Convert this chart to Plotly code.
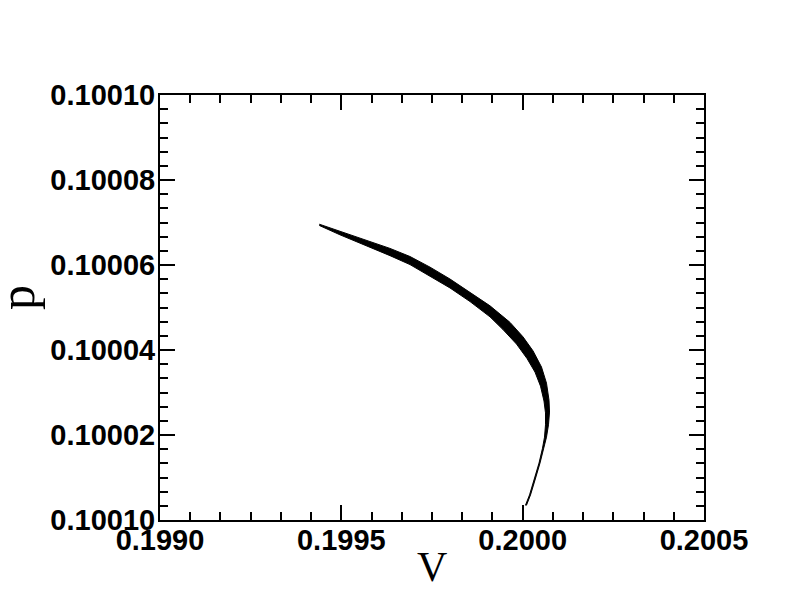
import plotly.graph_objects as go

# Outer (upper/right) edge of the band, from the top-left tip down to the bottom end
outer_v = [0.1994393, 0.1994963, 0.1995790, 0.1996342, 0.1996893, 0.1997445, 0.1997996,
           0.1998548, 0.1999099, 0.1999651, 0.2000009, 0.2000285, 0.2000519, 0.2000657,
           0.2000726, 0.2000740, 0.2000712, 0.2000657, 0.2000588, 0.2000478, 0.2000340,
           0.2000216, 0.2000106]
outer_p = [0.1000696, 0.1000679, 0.1000655, 0.1000639, 0.1000620, 0.1000595, 0.1000567,
           0.1000536, 0.1000504, 0.1000465, 0.1000431, 0.1000398, 0.1000360, 0.1000322,
           0.1000282, 0.1000254, 0.1000224, 0.1000195, 0.1000169, 0.1000134, 0.1000094,
           0.1000059, 0.1000035]

# Inner (lower/left) edge of the band, from the top-left tip down to the bottom end
inner_v = [0.1994393, 0.1994963, 0.1995790, 0.1996342, 0.1996893, 0.1997445, 0.1997996,
           0.1998548, 0.1999099, 0.1999458, 0.1999830, 0.2000120, 0.2000340, 0.2000492,
           0.2000588, 0.2000630, 0.2000630, 0.2000602, 0.2000547, 0.2000451, 0.2000313,
           0.2000189, 0.2000078]
inner_p = [0.1000693, 0.1000671, 0.1000641, 0.1000622, 0.1000601, 0.1000574, 0.1000546,
           0.1000514, 0.1000478, 0.1000448, 0.1000414, 0.1000380, 0.1000348, 0.1000315,
           0.1000280, 0.1000252, 0.1000224, 0.1000195, 0.1000169, 0.1000134, 0.1000094,
           0.1000059, 0.1000035]

x_tickvals = [0.1990, 0.1995, 0.2000, 0.2005]
x_ticktext = ["0.1990", "0.1995", "0.2000", "0.2005"]
y_tickvals = [0.10000, 0.10002, 0.10004, 0.10006, 0.10008, 0.10010]
y_ticktext = ["0.10010", "0.10002", "0.10004", "0.10006", "0.10008", "0.10010"]

x_title = "V"
y_title = "p"

fig = go.Figure()
fig.add_trace(go.Scatter(
    x=outer_v + inner_v[::-1],
    y=outer_p + inner_p[::-1],
    mode="lines",
    fill="toself",
    fillcolor="black",
    line=dict(color="black", width=1),
    showlegend=False,
    hoverinfo="skip",
))

tickfont = dict(family="Liberation Sans, Arial, sans-serif", size=29, color="black", weight="bold")

fig.update_layout(
    width=792, height=612,
    margin=dict(l=152, r=96, t=87, b=100),
    paper_bgcolor="white", plot_bgcolor="white",
    xaxis=dict(
        range=[0.1990, 0.2005],
        tickvals=x_tickvals, ticktext=x_ticktext,
        ticks="inside", ticklen=15, tickwidth=2, tickcolor="black",
        minor=dict(dtick=0.0005 / 6, tick0=0.1990, ticks="inside", ticklen=8,
                   tickwidth=2, tickcolor="black", showgrid=False),
        showline=True, linecolor="black", linewidth=2, mirror="allticks",
        showgrid=False, zeroline=False,
        tickfont=tickfont, ticklabelstandoff=-7,
    ),
    yaxis=dict(
        range=[0.10000, 0.10010],
        tickvals=y_tickvals, ticktext=y_ticktext,
        ticks="inside", ticklen=15, tickwidth=2, tickcolor="black",
        minor=dict(dtick=0.00002 / 6, tick0=0.10000, ticks="inside", ticklen=8,
                   tickwidth=2, tickcolor="black", showgrid=False),
        showline=True, linecolor="black", linewidth=2, mirror="allticks",
        showgrid=False, zeroline=False,
        tickfont=tickfont, ticklabelstandoff=-3,
    ),
    annotations=[
        dict(text=x_title, xref="paper", yref="paper", x=0.5, y=-0.111,
             showarrow=False, xanchor="center", yanchor="middle",
             font=dict(family="Liberation Serif, Times New Roman, serif", size=42, color="black")),
        dict(text=y_title, xref="paper", yref="paper", x=-0.2629, y=0.5247,
             showarrow=False, xanchor="center", yanchor="middle", textangle=-90,
             font=dict(family="Liberation Serif, Times New Roman, serif", size=50, color="black")),
    ],
)

fig.write_html("out.html")
